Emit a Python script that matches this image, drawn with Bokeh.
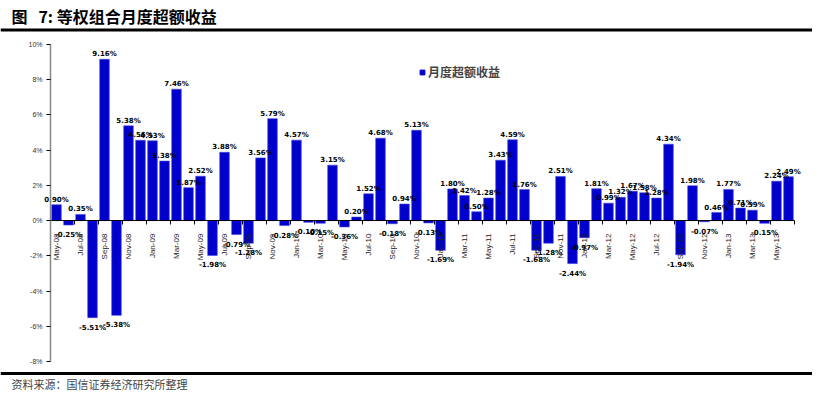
import math
import numpy as np
from bokeh.plotting import figure
from bokeh.models import (ColumnDataSource, Range1d, FixedTicker, Span, Label,
                          Legend, LegendItem, CustomJSTickFormatter)
from bokeh.core.properties import value
from bokeh.embed import file_html
from bokeh.resources import INLINE

# ---------------- data ----------------
months = ["May-08", "Jun-08", "Jul-08", "Aug-08", "Sep-08", "Oct-08", "Nov-08", "Dec-08",
          "Jan-09", "Feb-09", "Mar-09", "Apr-09", "May-09", "Jun-09", "Jul-09", "Aug-09",
          "Sep-09", "Oct-09", "Nov-09", "Dec-09",
          "Jan-10", "Feb-10", "Mar-10", "Apr-10", "May-10", "Jun-10", "Jul-10", "Aug-10",
          "Sep-10", "Oct-10", "Nov-10", "Dec-10",
          "Jan-11", "Feb-11", "Mar-11", "Apr-11", "May-11", "Jun-11", "Jul-11", "Aug-11",
          "Sep-11", "Oct-11", "Nov-11", "Dec-11",
          "Jan-12", "Feb-12", "Mar-12", "Apr-12", "May-12", "Jun-12", "Jul-12", "Aug-12",
          "Sep-12", "Oct-12", "Nov-12", "Dec-12",
          "Jan-13", "Feb-13", "Mar-13", "Apr-13", "May-13", "Jun-13"]
excess_pct = [0.90, -0.25, 0.35, -5.51, 9.16, -5.38, 5.38, 4.56,
              4.53, 3.38, 7.46, 1.87, 2.52, -1.98, 3.88, -0.79,
              -1.28, 3.56, 5.79, -0.28,
              4.57, -0.10, -0.15, 3.15, -0.36, 0.20, 1.52, 4.68,
              -0.18, 0.94, 5.13, -0.13,
              -1.69, 1.80, 1.42, 0.50, 1.28, 3.43, 4.59, 1.76,
              -1.68, -1.28, 2.51, -2.44,
              -0.97, 1.81, 0.99, 1.32, 1.67, 1.58, 1.28, 4.34,
              -1.94, 1.98, -0.07, 0.46,
              1.77, 0.71, 0.59, -0.15, 2.24, 2.49]
y_ticks = [-8, -6, -4, -2, 0, 2, 4, 6, 8, 10]
series_name = "月度超额收益"
title_text = "图\u00a0\u00a0\u00a07:\u00a0等权组合月度超额收益"
source_text = "资料来源：国信证券经济研究所整理"

# ---------------- layout helpers ----------------
W, H = 812, 391
PXX = 12.0                     # px per category
PXY = 317.0 / 18.0             # px per 1 %
X0 = -0.5 - 50 / PXX           # data x at left canvas edge (axis at px 50)
Y_TOP = 10 + 44 / PXY          # data y at top canvas edge (10% at px 44)
X1 = X0 + W / PXX
Y_BOT = Y_TOP - H / PXY


def dx(px):
    return X0 + px / PXX


def dy(py):
    return Y_TOP - py / PXY


idx = list(range(len(months)))
labels = [f"{v:.2f}%" for v in excess_pct]
pos = ColumnDataSource(dict(x=[i for i, v in zip(idx, excess_pct) if v >= 0],
                            y=[v for v in excess_pct if v >= 0],
                            t=[l for l, v in zip(labels, excess_pct) if v >= 0]))
neg = ColumnDataSource(dict(x=[i for i, v in zip(idx, excess_pct) if v < 0],
                            y=[v for v in excess_pct if v < 0],
                            t=[l for l, v in zip(labels, excess_pct) if v < 0]))
src = ColumnDataSource(dict(x=idx, top=excess_pct, m=months))

p = figure(width=W, height=H, output_backend="svg", toolbar_location=None,
           x_range=Range1d(X0, X1), y_range=Range1d(Y_BOT, Y_TOP),
           min_border=0, min_border_left=0, min_border_right=0,
           min_border_top=0, min_border_bottom=0)
p.outline_line_color = None
p.xgrid.visible = False
p.ygrid.visible = False
p.background_fill_color = "white"

bars = p.vbar(x="x", top="top", bottom=0, width=0.8, source=src,
              fill_color="#0000CC", line_color="#4444DD", line_width=0.6)
# legend proxy (a single NaN point, never drawn in the plot): small square swatch
swatch = p.scatter(x=np.array([np.nan]), y=np.array([np.nan]), marker="square", size=5,
                   fill_color="#0000CC", line_color="#0000CC")

# value labels
font_lbl = value("DejaVu Sans")
p.text(x="x", y="y", text="t", source=pos, text_align="center",
       text_baseline="alphabetic", y_offset=-5, text_font_size="7px",
       text_font_style="bold", text_color="black", text_font=font_lbl)
p.text(x="x", y="y", text="t", source=neg, text_align="center",
       text_baseline="top", y_offset=6, text_font_size="7px",
       text_font_style="bold", text_color="black", text_font=font_lbl)

# x axis at zero
xa = p.xaxis[0]
xa.fixed_location = 0
xa.bounds = (-0.5, len(months) - 0.5)
xa.ticker = FixedTicker(ticks=idx[::2],
                        minor_ticks=[i - 0.5 for i in idx[::2]] + [len(months) - 0.5])
xa.major_label_overrides = {i: months[i] for i in idx[::2]}
xa.major_label_orientation = math.pi / 2
xa.major_tick_in = 0
xa.major_tick_out = 0
xa.minor_tick_in = 0
xa.minor_tick_out = 4
xa.minor_tick_line_color = "black"
xa.axis_line_color = "black"
xa.axis_line_width = 1
xa.major_label_standoff = 9
xa.major_label_text_font = "Liberation Sans"
xa.major_label_text_font_size = "8px"
xa.major_label_text_color = "#222222"

# y axis at left boundary
ya = p.yaxis[0]
ya.fixed_location = -0.5
ya.bounds = (-8, 10)
ya.ticker = FixedTicker(ticks=y_ticks, minor_ticks=[])
ya.formatter = CustomJSTickFormatter(code="return tick + '%'")
ya.major_tick_in = 0
ya.major_tick_out = 4
ya.major_tick_line_color = "black"
ya.minor_tick_line_color = None
ya.axis_line_color = "#888888"
ya.axis_line_width = 1.5
ya.major_label_standoff = 4
ya.major_label_text_font = "Liberation Sans"
ya.major_label_text_font_size = "7px"
ya.major_label_text_color = "#333333"

# title, rules, source note
p.add_layout(Label(x=dx(11), y=dy(15), text=title_text, text_baseline="middle",
                   text_font="Noto Sans CJK SC", text_font_size="16px",
                   text_font_style="bold", text_color="black"))
p.add_layout(Span(location=dy(29.5), dimension="width", line_color="black", line_width=3))
p.add_layout(Span(location=dy(373), dimension="width", line_color="black", line_width=3))
p.add_layout(Label(x=dx(11), y=dy(383), text=source_text, text_baseline="middle",
                   text_font="Noto Sans CJK SC", text_font_size="11px",
                   text_color="#444444"))

legend = Legend(items=[LegendItem(label=series_name, renderers=[swatch])],
                location=(416, 311), glyph_width=12, glyph_height=12,
                label_standoff=0, label_text_font="Noto Sans CJK SC",
                label_text_font_size="12px", label_text_font_style="bold",
                border_line_color=None, background_fill_alpha=0,
                padding=0, margin=0, spacing=0)
p.add_layout(legend)

open("out.html", "w").write(file_html(p, INLINE))
